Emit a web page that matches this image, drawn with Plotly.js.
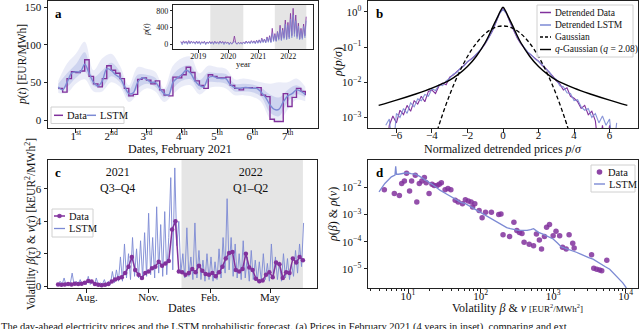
<!DOCTYPE html>
<html><head><meta charset="utf-8">
<script src="https://cdn.plot.ly/plotly-3.0.1.min.js"></script>
<style>html,body{margin:0;padding:0;background:#fff}#chart{width:640px;height:329px}</style>
</head><body><div id="chart"></div>
<script>
// ---------- Panel a: February 2021, 3-hourly samples (day index) ----------
const febData = [42,37,55,64,63,65,80,58, 48,44,55,72,66,62,55,42, 32,34,54,56,53,48,52,40, 33,32,57,56,60,70,63,52, 46,42,60,58,56,56,57,46, 42,40,43,43,42,43,33,31, 1,-2,-2,35,18,30,42,38, 33];
const febLstm = [44,40,50,62,64,64,74,62, 50,45,52,68,66,60,56,45, 35,36,50,56,54,50,50,42, 35,33,50,56,60,66,62,52, 46,44,56,58,56,55,55,47, 43,42,43,43,42,42,37,30, 20,14,14,24,32,35,40,38, 34];
// quantile bands, 6-hourly
const outerUp = [52,75,88,104,66,82,88,72,46,70,68,64,42,72,82,84,62,72,70,68,54,55,53,50,48,50,50,55,44];
const innerUp = [48,62,74,90,57,66,76,64,40,60,60,56,38,60,70,72,53,63,62,61,48,48,47,43,34,30,40,46,38];
const innerLo = [40,44,56,64,45,44,58,50,30,42,48,44,30,42,52,54,40,50,50,48,38,38,37,31,10,5,24,34,30];
const outerLo = [36,36,48,54,38,38,50,44,24,34,42,38,24,34,44,46,34,42,44,42,33,33,31,24,2,-3,14,27,25];
const dayTicks = [1,2,3,4,5,6,7];
const dayLabels = ['1<sup>st</sup>','2<sup>nd</sup>','3<sup>rd</sup>','4<sup>th</sup>','5<sup>th</sup>','6<sup>th</sup>','7<sup>th</sup>'];

// ---------- Inset: 4 years, half-monthly samples ----------
const insetData = [60,15,75,25,65,10,80,20,70,30,55,15,
  70,20,60,10,55,25,65,5,50,20,60,15,
  55,10,65,20,50,15,70,25,60,10,55,20,
  45,5,40,10,35,190,30,5,40,15,35,10,
  50,15,70,25,60,20,80,30,75,20,90,30,
  100,30,140,50,120,40,170,60,200,50,376,80,
  250,80,300,120,450,100,380,150,576,120,520,160,
  736,200,856,250,696,180,500,120,376,150,480,200, 656];
const insetLstm = [50,-20,60,10,55,-10,65,0,60,15,50,-5,
  60,5,55,-15,50,10,55,-20,45,5,55,0,
  50,-10,55,5,45,-5,60,10,50,-15,45,5,
  40,-20,35,-5,30,60,25,-10,35,0,30,-5,
  45,0,60,10,55,5,70,15,65,5,80,15,
  90,20,120,30,110,25,150,40,170,30,250,60,
  220,60,280,90,380,80,330,110,480,100,450,120,
  600,150,700,180,560,130,430,100,330,110,420,150, 560];
const insetYears = [2019,2020,2021,2022];

// ---------- Panel b: detrended price distributions ----------
const bData = [1e-4,0.0006,0.0011,0.0007,0.0016,0.0012,0.0022,0.0015,0.0030,0.0024,
  0.0040,0.0028,0.0055,0.0060,0.0048,0.0080,0.0095,0.0085,0.0140,0.0160,
  0.020,0.024,0.030,0.038,0.045,0.055,0.070,0.090,0.125,0.180,
  0.28,0.50,0.90,1.25,0.90,0.50,0.29,0.18,0.125,0.090,
  0.070,0.058,0.048,0.040,0.030,0.025,0.019,0.015,0.011,0.009,
  0.006,0.007,0.004,0.0035,0.0028,0.0018,0.0022,0.0012,0.0015,0.0008,
  1e-4,0.0006,1e-4,0.0006,1e-4,1e-4];
const bLstm = [0.0006,0.0009,1e-4,0.0013,0.0010,0.0018,0.0013,0.0026,0.0020,0.0034,
  0.0030,0.0045,0.0040,0.0065,0.0058,0.0085,0.0080,0.0110,0.0130,0.0170,
  0.019,0.025,0.029,0.039,0.044,0.056,0.072,0.092,0.13,0.185,
  0.29,0.52,0.88,1.20,0.88,0.52,0.30,0.19,0.13,0.095,
  0.072,0.060,0.046,0.039,0.032,0.024,0.020,0.014,0.012,0.008,
  0.0075,0.005,0.0048,0.003,0.0032,0.002,0.0016,0.0018,0.001,0.0013,
  0.0007,0.0011,0.0006,0.0009,1e-4,0.0007];
const gaussX = [-3.7,-3.5,-3.25,-3,-2.75,-2.5,-2.25,-2,-1.75,-1.5,-1.25,-1,-0.75,-0.5,-0.25,0,0.25,0.5,0.75,1,1.25,1.5,1.75,2,2.25,2.5,2.75,3,3.25,3.5,3.7];
const gaussY = [0.000425,0.000873,0.00203,0.00443,0.00909,0.0175,0.0317,0.0540,0.0863,0.1295,0.1826,0.2420,0.3011,0.3521,0.3867,0.3989,0.3867,0.3521,0.3011,0.2420,0.1826,0.1295,0.0863,0.0540,0.0317,0.0175,0.00909,0.00443,0.00203,0.000873,0.000425];
const qX = [-7,-6,-5,-4,-3,-2.5,-2,-1.5,-1,-0.75,-0.5,-0.3,-0.15,0,0.15,0.3,0.5,0.75,1,1.5,2,2.5,3,4,5,6,7];
const qY = [0.0022,0.0031,0.0045,0.0068,0.0115,0.017,0.028,0.055,0.135,0.24,0.45,0.72,1.05,1.35,1.05,0.72,0.45,0.24,0.135,0.055,0.028,0.017,0.0115,0.0068,0.0045,0.0031,0.0022];

// ---------- Panel c: volatility (kEUR^2/MWh^2) ----------
const cData = [0.10,0.08,0.10,0.12,0.10,0.15,0.12,0.15,0.20,0.32,
  0.28,0.12,0.08,0.05,0.08,0.12,0.28,0.40,0.48,0.55,
  0.80,1.20,1.80,1.00,0.70,0.50,0.80,0.90,1.10,1.20,
  1.50,1.25,1.40,1.55,3.50,4.00,0.90,0.85,0.70,0.80,
  1.05,0.85,1.25,0.95,0.75,0.70,0.80,0.60,0.85,1.20,
  1.70,2.05,2.10,1.00,0.90,1.05,2.00,1.15,1.00,0.45,
  0.30,0.35,0.70,0.85,0.55,1.45,1.35,0.50,0.85,0.80,
  1.70,1.45,1.80,1.60];
const cLstm = [0.05,0.3,0.1,0.5,0.05,0.2,0.1,0.8,0.05,0.3,0.1,0.4,0.05,0.25,0.1,
  0.6,0.1,0.3,0.05,0.5,0.05,0.2,0.1,0.4,0.05,0.3,0.1,0.9,0.2,1.0,0.3,
  1.8,0.3,2.6,0.5,2.0,0.4,3.0,0.6,2.3,0.5,2.8,0.5,
  3.3,0.6,4.5,0.7,3.0,0.5,4.9,0.8,3.8,0.6,4.6,0.7,3.0,
  6.7,1.0,7.3,2.5,4.0,
  0.8,2.0,0.5,3.6,0.6,1.8,0.4,3.9,0.5,2.2,0.4,1.6,0.3,2.0,0.4,
  1.8,0.3,1.5,0.4,2.3,0.5,3.0,0.8,5.4,1.0,
  3.0,0.6,2.6,0.5,2.0,0.4,2.8,0.5,1.8,0.3,2.2,0.4,1.6,0.3,1.5,
  0.3,2.0,0.4,1.4,0.3,2.6,0.5,1.8,0.4,1.5,0.3,2.0,0.5,1.7,0.4,1.4,0.6,2.2,0.8,2.6,1.2,3.9];
const cTickVals = ['2021-08-01','2021-11-01','2022-02-01','2022-05-01'];
const cTickText = ['Aug.','Nov.','Feb.','May'];

// ---------- Panel d: volatility distributions ----------
const dDataX = [4.71,6.47,7.59,8.18,8.91,9.55,10.5,11.2,12.6,13.2,14.3,15.5,16.8,17.8,19.5,21.4,22.9,25.1,26.9,28.8,32.4,35.5,38.9,44.7,49.0,56.2,61.7,67.6,74.1,77.6,83.2,95.5,105,117,141,178,191,204,251,288,316,343,372,398,468,537,589,646,692,759,813,891,1000,1096,1230,1349,1514,1660,1862,1950,3388,3631,3981,4365,4677,5495];
const dDataY = [0.0081,0.0059,0.0050,0.0138,0.0170,0.0324,0.0072,0.0170,0.0275,0.0029,
  0.0138,0.0170,0.0229,0.0145,0.0059,0.0129,0.0117,0.0115,0.0129,0.0145,
  0.0081,0.0089,0.0081,0.0033,0.0029,0.0025,0.0035,0.0031,0.0029,0.0019,
  0.0025,0.0014,0.00076,0.0012,0.0012,0.0010,0.00105,0.00018,0.000155,0.00052,
  0.00026,0.00022,0.00020,0.000095,0.000081,0.000071,0.00019,0.000115,0.000054,0.000155,
  0.00034,0.00043,0.000166,0.00024,0.000166,0.000062,0.000054,0.00018,0.000087,0.000059,
  0.000033,0.0000107,0.0000098,0.0000091,0.0000085,0.000021];
const dLstmX = [3.98,4.79,5.89,6.61,6.76,6.92,7.41,8.51,9.55,11.0,12.6,14.5,16.2,18.6,21.4,24.0,27.5,31.6,36.3,40.7,46.8,53.7,61.7,69.2,79.4,91.2,105,120,135,151,166,186,204,229,257,288,331,380,437,490,537,589,631,724,813,912,1000,1148,1288,1445,1585,1820,2089,2399,2692,3090,3548,3981,4571,5248,6026,6761,7413,8318,9120,10233];
const dLstmY = [0.0068,0.0138,0.024,0.028,0.059,0.030,0.030,0.032,0.034,0.0316,
  0.030,0.025,0.021,0.0158,0.0129,0.0105,0.0078,0.0063,0.0050,0.0042,
  0.0035,0.0028,0.0025,0.0021,0.0016,0.0013,0.00105,0.00087,0.00076,0.00063,
  0.00052,0.00044,0.00039,0.00033,0.00030,0.00028,0.00026,0.00026,0.00026,0.00028,
  0.00030,0.00025,0.00022,0.00019,0.000166,0.000141,0.000126,0.000089,0.000065,0.000058,
  0.000054,0.000047,0.000041,0.000035,0.000030,0.000026,0.000023,0.0000186,0.0000148,0.0000120,
  0.0000098,0.0000071,0.0000055,0.0000042,0.0000031,0.0000020];

// ---------- x grids (sampling positions) ----------
const febX = febData.map((_, i) => 0.5 + i * 0.125);
const bandX = outerUp.map((_, i) => 0.5 + i * 0.25);
const insetX = insetData.map((_, i) => 2018.42 + i * 0.0435);
const bX = bData.map((_, i) => Math.round((-6.6 + i * 0.2) * 10) / 10);
const dayMs = 86400000;
const cStart = Date.UTC(2021, 5, 19);
const isoDay = t => new Date(t).toISOString().slice(0, 10);
const cDataX = cData.map((_, i) => isoDay(cStart + i * 5 * dayMs));
const cLstmX = cLstm.map((_, i) => isoDay(cStart + i * 3 * dayMs));

const PURPLE = '#81319c';
const LSTMC = '#7c8ad4';
const FONT = '"Liberation Serif", "Times New Roman", serif';

const traces = [
  {x: bandX, y: outerLo, xaxis: 'x', yaxis: 'y', mode: 'lines', line: {width: 0, shape: 'spline'}, hoverinfo: 'skip'},
  {x: bandX, y: outerUp, xaxis: 'x', yaxis: 'y', mode: 'lines', line: {width: 0, shape: 'spline'}, fill: 'tonexty', fillcolor: 'rgba(124,138,212,0.16)', hoverinfo: 'skip'},
  {x: bandX, y: innerLo, xaxis: 'x', yaxis: 'y', mode: 'lines', line: {width: 0, shape: 'spline'}, hoverinfo: 'skip'},
  {x: bandX, y: innerUp, xaxis: 'x', yaxis: 'y', mode: 'lines', line: {width: 0, shape: 'spline'}, fill: 'tonexty', fillcolor: 'rgba(124,138,212,0.26)', hoverinfo: 'skip'},
  {x: febX, y: febData, xaxis: 'x', yaxis: 'y', mode: 'lines', name: 'Data', line: {color: PURPLE, width: 1.4, shape: 'hv'}},
  {x: febX, y: febLstm, xaxis: 'x', yaxis: 'y', mode: 'lines', name: 'LSTM', line: {color: LSTMC, width: 1.4, shape: 'spline'}},
  {x: insetX, y: insetData, xaxis: 'x5', yaxis: 'y5', mode: 'lines', line: {color: PURPLE, width: 0.8}},
  {x: insetX, y: insetLstm, xaxis: 'x5', yaxis: 'y5', mode: 'lines', line: {color: LSTMC, width: 0.8}, opacity: 0.9},
  {x: bX, y: bData, xaxis: 'x2', yaxis: 'y2', mode: 'lines', name: 'Detrended Data', line: {color: PURPLE, width: 1.1}},
  {x: bX, y: bLstm, xaxis: 'x2', yaxis: 'y2', mode: 'lines', name: 'Detrended LSTM', line: {color: LSTMC, width: 1.1}, opacity: 0.9},
  {x: gaussX, y: gaussY, xaxis: 'x2', yaxis: 'y2', mode: 'lines', name: 'Gaussian', line: {color: '#000', width: 1.3, dash: '4px,2.5px', shape: 'spline'}},
  {x: qX, y: qY, xaxis: 'x2', yaxis: 'y2', mode: 'lines', name: 'q-Gaussian', line: {color: '#000', width: 1.4, shape: 'spline'}},
  {x: cLstmX, y: cLstm, xaxis: 'x3', yaxis: 'y3', mode: 'lines', name: 'LSTM', line: {color: LSTMC, width: 1}, opacity: 0.9},
  {x: cDataX, y: cData, xaxis: 'x3', yaxis: 'y3', mode: 'lines+markers', name: 'Data', line: {color: PURPLE, width: 1.5}, marker: {color: PURPLE, size: 4.5}},
  {x: dDataX, y: dDataY, xaxis: 'x4', yaxis: 'y4', mode: 'markers', name: 'Data', marker: {color: PURPLE, size: 5.5, opacity: 0.85}},
  {x: dLstmX, y: dLstmY, xaxis: 'x4', yaxis: 'y4', mode: 'lines', name: 'LSTM', line: {color: LSTMC, width: 1.3}}
];

const ax = (extra) => Object.assign({
  showline: true, mirror: true, linecolor: '#222', linewidth: 1,
  ticks: 'outside', ticklen: 3.5, tickwidth: 1, tickcolor: '#222',
  showgrid: false, zeroline: false,
  tickfont: {family: FONT, size: 11, color: '#111'}
}, extra);

const W = 640, H = 329;
const px = v => v / W, py = v => 1 - v / H;

const minorD = [2,3,4,5,6,7,8,9,20,30,40,50,60,70,80,90,200,300,400,500,600,700,800,900,2000,3000,4000,5000,6000,7000,8000,9000];

const ann = (x, y, text, o) => Object.assign({xref: 'paper', yref: 'paper', x: px(x), y: py(y), xanchor: 'center', yanchor: 'middle', text, showarrow: false, font: {family: FONT, size: 12, color: '#111'}}, o || {});

// ---------- compact matplotlib-style legends (paper coordinates) ----------
const legShapes = [];
const legAnn = [];
const box = (x0, y0, x1, y1) => legShapes.push({type: 'rect', xref: 'paper', yref: 'paper', x0: px(x0), x1: px(x1), y0: py(y0), y1: py(y1), fillcolor: 'rgba(255,255,255,0.85)', line: {color: '#d0d0d0', width: 1}});
const seg = (x0, x1, y, color, width, dash) => legShapes.push({type: 'line', xref: 'paper', yref: 'paper', x0: px(x0), x1: px(x1), y0: py(y), y1: py(y), line: {color, width, dash: dash || 'solid'}});
const dot = (cx, cy, r, color) => legShapes.push({type: 'circle', xref: 'paper', yref: 'paper', x0: px(cx - r), x1: px(cx + r), y0: py(cy + r), y1: py(cy - r), fillcolor: color, line: {width: 0}, opacity: 0.9});
const lab = (x, y, text, size) => legAnn.push(ann(x, y, text, {xanchor: 'left', font: {family: FONT, size: size || 10.5, color: '#111'}}));

// a
box(51, 107, 124, 123.5);
seg(54, 63, 115.3, PURPLE, 1.5); lab(64.5, 115.3, 'Data');
seg(87, 96, 115.3, LSTMC, 1.5); lab(97.5, 115.3, 'LSTM');
// b
box(537, 5, 633, 57);
seg(540, 551, 12.5, PURPLE, 1.5); lab(552.5, 12.5, 'Detrended Data', 9.5);
seg(540, 551, 25, LSTMC, 1.5); lab(552.5, 25, 'Detrended LSTM', 9.5);
seg(540, 551, 37, '#000', 1.3, '3px,2px'); lab(552.5, 37, 'Gaussian', 9.5);
seg(540, 551, 49.5, '#000', 1.4); lab(552.5, 49.5, '<i>q</i>-Gaussian (<i>q</i> = 2.08)', 9.5);
// c
box(52, 209, 93, 237);
seg(54, 65, 216, PURPLE, 1.5); dot(59.5, 216, 2.3, PURPLE); lab(66.5, 216, 'Data');
seg(54, 65, 228.5, LSTMC, 1.3); lab(66.5, 228.5, 'LSTM');
// d
box(591, 165, 635, 192);
dot(599.5, 172, 2.8, PURPLE); lab(606, 172, 'Data');
seg(594, 605, 184, LSTMC, 1.4); lab(606.5, 184, 'LSTM');

const layout = {
  width: W, height: H,
  margin: {l: 0, r: 0, t: 0, b: 0},
  paper_bgcolor: '#fff', plot_bgcolor: 'rgba(0,0,0,0)',
  font: {family: FONT, color: '#111'},
  showlegend: false,
  xaxis: ax({domain: [px(48), px(318)], anchor: 'y', range: [0.21, 7.86], tickmode: 'array', tickvals: dayTicks, ticktext: dayLabels, ticklabelstandoff: -6}),
  yaxis: ax({domain: [py(128), py(1)], anchor: 'x', range: [-10.6, 158], tickmode: 'array', tickvals: [0, 50, 100, 150]}),
  xaxis2: ax({domain: [px(368), px(638)], anchor: 'y2', range: [-7.6, 7.6], tickmode: 'array', tickvals: [-6,-4,-2,0,2,4,6], ticktext: ['−6','−4','−2','0','2','4','6'], ticklabelstandoff: -7}),
  yaxis2: ax({domain: [py(128), py(1)], anchor: 'x2', type: 'log', range: [-3.3, 0.31], tickmode: 'array', tickvals: [1, 0.1, 0.01, 0.001], ticktext: ['10<sup>0</sup>','10<sup>−1</sup>','10<sup>−2</sup>','10<sup>−3</sup>']}),
  xaxis3: ax({domain: [px(48), px(317)], anchor: 'y3', type: 'date', range: ['2021-06-04', '2022-07-10'], tickmode: 'array', tickvals: cTickVals, ticktext: cTickText, ticklabelstandoff: -5}),
  yaxis3: ax({domain: [py(288), py(160)], anchor: 'x3', range: [-0.12, 7.79], tickmode: 'array', tickvals: [0, 2, 4, 6]}),
  xaxis4: ax({domain: [px(368), px(638)], anchor: 'y4', type: 'log', range: [0.448, 4.17], tickmode: 'array', tickvals: [10, 100, 1000, 10000], ticktext: ['10<sup>1</sup>','10<sup>2</sup>','10<sup>3</sup>','10<sup>4</sup>'], ticklabelstandoff: -6, minor: {tickmode: 'array', tickvals: minorD, ticks: 'outside', ticklen: 2, tickcolor: '#222'}}),
  yaxis4: ax({domain: [py(288), py(160)], anchor: 'x4', type: 'log', range: [-5.7, -1.0], tickmode: 'array', tickvals: [0.01, 0.001, 0.0001, 0.00001], ticktext: ['10<sup>−2</sup>','10<sup>−3</sup>','10<sup>−4</sup>','10<sup>−5</sup>']}),
  xaxis5: ax({domain: [px(173.3), px(313.3)], anchor: 'y5', range: [2018.167, 2022.833], tickmode: 'array', tickvals: insetYears, ticklen: 2.5, ticklabelstandoff: -3, tickfont: {family: FONT, size: 8, color: '#111'}}),
  yaxis5: ax({domain: [py(49.3), py(4.7)], anchor: 'x5', range: [-127, 944], tickmode: 'array', tickvals: [0, 400, 800], ticklen: 2.5, tickfont: {family: FONT, size: 8, color: '#111'}}),
  shapes: [
    {type: 'rect', xref: 'x3', yref: 'y3 domain', x0: '2021-12-20', x1: '2022-06-19', y0: 0, y1: 1, fillcolor: '#e5e5e5', line: {width: 0}, layer: 'below'},
    {type: 'rect', xref: 'x5', yref: 'y5 domain', x0: 2019.4, x1: 2020.5, y0: 0, y1: 1, fillcolor: '#e5e5e5', line: {width: 0}, layer: 'below'},
    {type: 'rect', xref: 'x5', yref: 'y5 domain', x0: 2021.55, x1: 2022.6, y0: 0, y1: 1, fillcolor: '#e5e5e5', line: {width: 0}, layer: 'below'}
  ].concat(legShapes),
  annotations: [
    ann(53, 4, '<b>a</b>', {xanchor: 'left', yanchor: 'top', font: {family: FONT, size: 13, color: '#000'}}),
    ann(374, 4, '<b>b</b>', {xanchor: 'left', yanchor: 'top', font: {family: FONT, size: 13, color: '#000'}}),
    ann(53, 163, '<b>c</b>', {xanchor: 'left', yanchor: 'top', font: {family: FONT, size: 13, color: '#000'}}),
    ann(374, 163, '<b>d</b>', {xanchor: 'left', yanchor: 'top', font: {family: FONT, size: 13, color: '#000'}}),
    ann(22, 65, '<i>p</i>(<i>t</i>) [EUR/MWh]', {textangle: -90, font: {family: FONT, size: 11.5, color: '#111'}}),
    ann(180, 148.5, 'Dates, February 2021'),
    ann(147, 30, '<i>p</i>(<i>t</i>)', {textangle: -90, font: {family: FONT, size: 8, color: '#111'}}),
    ann(243, 64, 'year', {font: {family: FONT, size: 8.5, color: '#111'}}),
    ann(338, 62, '<i>ρ</i>(<i>p</i>/<i>σ</i>)', {textangle: -90}),
    ann(503, 148.5, 'Normalized detrended prices <i>p</i>/<i>σ</i>'),
    ann(30, 224, 'Volatility <i>β</i>(<i>τ</i>) &amp; <i>ν</i>(<i>τ</i>) [kEUR<sup>2</sup>/MWh<sup>2</sup>]', {textangle: -90, font: {family: FONT, size: 11.5, color: '#111'}}),
    ann(117, 163, '2021<br>Q3–Q4', {yanchor: 'top', font: {family: FONT, size: 12, color: '#111'}}),
    ann(250, 163, '2022<br>Q1–Q2', {yanchor: 'top', font: {family: FONT, size: 12, color: '#111'}}),
    ann(182, 308, 'Dates'),
    ann(333, 215, '<i>ρ</i>(<i>β</i>) &amp; <i>ρ</i>(<i>ν</i>)', {textangle: -90}),
    ann(517, 308, 'Volatility <i>β</i> &amp; <i>ν</i> <span style="font-size:9px">[EUR<sup>2</sup>/MWh<sup>2</sup>]</span>'),
    ann(-1, 318.5, 'The day-ahead electricity prices and the LSTM probabilistic forecast. (a) Prices in February 2021 (4 years in inset), comparing and ext', {xanchor: 'left', yanchor: 'top', font: {family: FONT, size: 10.5, color: '#111'}})
  ].concat(legAnn)
};

Plotly.newPlot('chart', traces, layout, {staticPlot: true, displayModeBar: false});
</script>
</body></html>
